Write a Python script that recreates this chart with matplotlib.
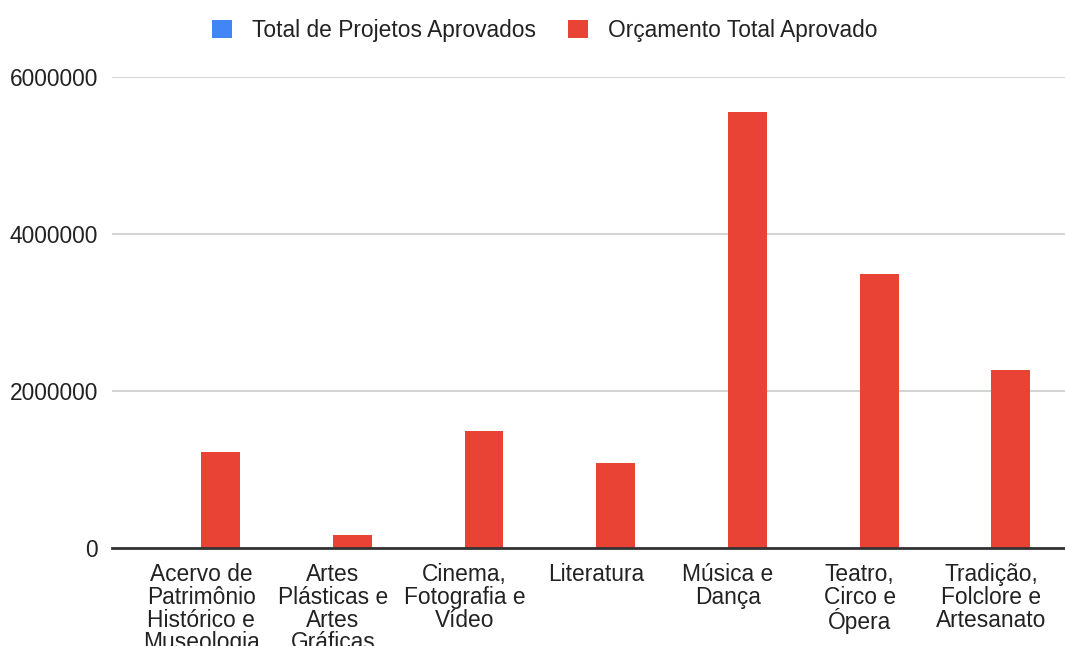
import numpy as np
import matplotlib
matplotlib.use("Agg")
import matplotlib.pyplot as plt
from matplotlib.patches import Patch

categorias = [
    "Acervo de\nPatrimônio\nHistórico e\nMuseologia",
    "Artes\nPlásticas e\nArtes\nGráficas",
    "Cinema,\nFotografia e\nVídeo",
    "Literatura",
    "Música e\nDança",
    "Teatro,\nCirco e\nÓpera",
    "Tradição,\nFolclore e\nArtesanato",
]
total_projetos = [9, 2, 11, 10, 38, 24, 16]
orcamento_total = [1225000, 165000, 1490000, 1085000, 5555000, 3490000, 2270000]

plt.rcParams['font.family'] = ['Liberation Sans', 'DejaVu Sans']
cor_texto = "#222222"
fs = 16.4

fig = plt.figure(figsize=(10.65, 6.46), dpi=100)
ax = fig.add_axes([112/1065, 1 - 548/646, (1065-112)/1065, (548-77)/646])

x = np.arange(len(categorias))
w = 0.296
ax.bar(x - w/2, total_projetos, w, color="#4285f4", zorder=3)
ax.bar(x + w/2, orcamento_total, w, color="#e94335", zorder=3)

ax.set_xlim(-0.677, 6.56)
ax.set_ylim(0, 6000000)
ax.set_yticks([0, 2000000, 4000000, 6000000])
ax.set_yticklabels(["0", "2000000", "4000000", "6000000"])
ax.grid(axis="y", color="#cccccc", linewidth=1.2, zorder=0)
ax.axhline(0, color="#333333", linewidth=2, zorder=4, clip_on=False)

for s in ax.spines.values():
    s.set_visible(False)

ax.tick_params(axis="y", length=0, pad=10, labelsize=fs, labelcolor=cor_texto)
ax.tick_params(axis="x", length=0, pad=11, labelsize=fs, labelcolor=cor_texto)
ax.set_xticks(x)
ax.set_xticklabels(categorias, linespacing=0.98)

handles = [Patch(facecolor="#4285f4", label="Total de Projetos Aprovados"),
           Patch(facecolor="#e94335", label="Orçamento Total Aprovado")]
fig.legend(handles=handles, loc="center", bbox_to_anchor=(545/1065, 1 - 30/646),
           ncol=2, frameon=False, fontsize=fs, handlelength=0.85, handleheight=0.85,
           handletextpad=0.9, columnspacing=1.42, labelcolor=cor_texto)

fig.savefig("out.png", dpi=100)
